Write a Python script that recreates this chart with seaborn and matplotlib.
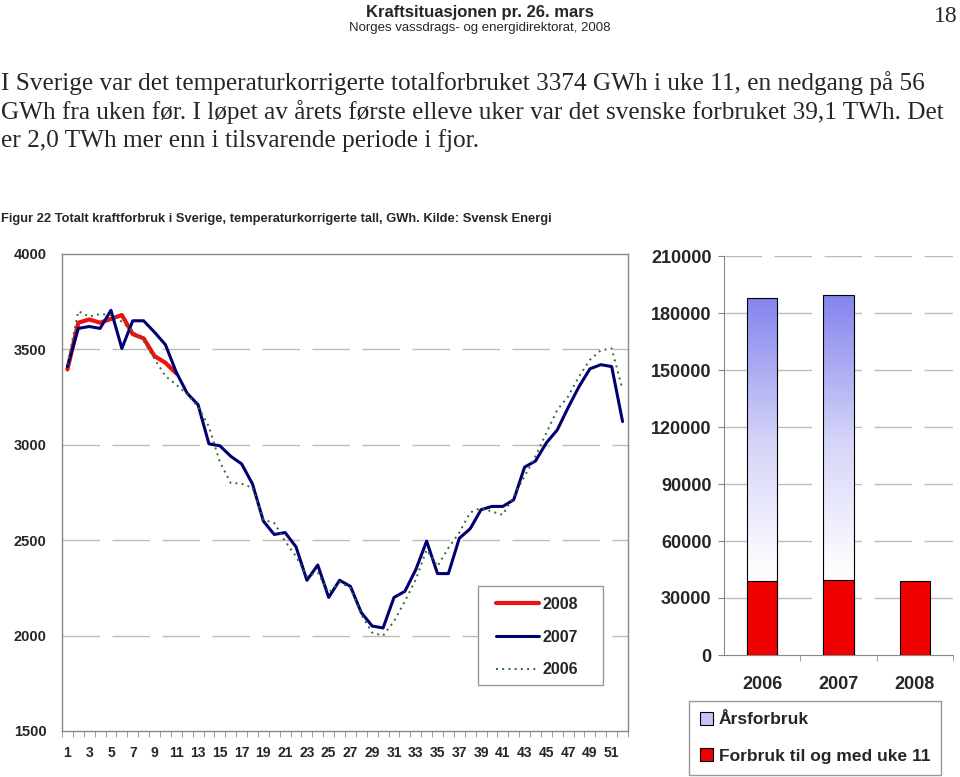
import numpy as np
import pandas as pd
import seaborn as sns
import matplotlib.pyplot as plt
from matplotlib.lines import Line2D
from matplotlib.patches import Patch, Rectangle
from matplotlib.colors import LinearSegmentedColormap

# weekly consumption, GWh (temperature corrected)
weeks = list(range(1, 53))
forbruk_2006 = [3420, 3700, 3672, 3685, 3680, 3645, 3595, 3545, 3450, 3360,
                3315, 3265, 3200, 3095, 2910, 2800, 2796, 2775, 2607, 2590,
                2495, 2415, 2310, 2330, 2225, 2280, 2250, 2110, 2015, 2000,
                2075, 2180, 2293, 2450, 2363, 2460, 2540, 2645, 2670, 2650,
                2633, 2730, 2835, 2940, 3062, 3183, 3253, 3358, 3445, 3495,
                3505, 3290]
forbruk_2007 = [3410, 3610, 3620, 3610, 3705, 3505, 3650, 3650, 3590, 3525,
                3380, 3270, 3210, 3005, 2995, 2940, 2900, 2795, 2600, 2530,
                2540, 2465, 2290, 2370, 2200, 2290, 2258, 2120, 2050, 2040,
                2200, 2232, 2345, 2495, 2325, 2325, 2510, 2560, 2660, 2677,
                2677, 2712, 2883, 2915, 3010, 3078, 3195, 3305, 3398, 3420,
                3410, 3122]
forbruk_2008 = [3395, 3640, 3657, 3640, 3660, 3680, 3580, 3558, 3465, 3430, 3374]

# yearly totals vs. consumption up to week 11, GWh
years = ['2006', '2007', '2008']
arsforbruk_years = ['2006', '2007']
arsforbruk = [187900, 189400]
forbruk_uke11 = [38900, 39300, 39100]

RED = '#ee1111'
NAVY = '#000070'
GREEN = '#2e6b3a'
GRID = '#bbbbbb'

sns.set_style('white')
plt.rcParams['font.family'] = ['Liberation Sans', 'DejaVu Sans']
serif = ['Liberation Serif', 'DejaVu Serif']

fig = plt.figure(figsize=(9.6, 7.77), dpi=100)


def px(x, y):
    # pixel position on the page -> figure fraction
    return x / 960, 1 - y / 777


# ---- page text ----
fig.text(*px(480, 12), 'Kraftsituasjonen pr. 26. mars', ha='center', va='center',
         fontsize=12, fontweight='bold')
fig.text(*px(480, 28), 'Norges vassdrags- og energidirektorat, 2008', ha='center', va='center',
         fontsize=9.5)
fig.text(*px(958, 16), '18', ha='right', va='center', fontsize=17, family=serif)

paragraph = ['I Sverige var det temperaturkorrigerte totalforbruket 3374 GWh i uke 11, en nedgang på 56',
             'GWh fra uken før. I løpet av årets første elleve uker var det svenske forbruket 39,1 TWh. Det',
             'er 2,0 TWh mer enn i tilsvarende periode i fjor.']
for i, line in enumerate(paragraph):
    fig.text(*px(1, 83 + i * 29), line, ha='left', va='center', fontsize=18.2, family=serif)

fig.text(*px(1, 219),
         'Figur 22 Totalt kraftforbruk i Sverige, temperaturkorrigerte tall, GWh. Kilde: Svensk Energi',
         ha='left', va='center', fontsize=9.3, fontweight='bold')

# ---- weekly line chart ----
ax = fig.add_axes([62 / 960, 1 - 731 / 777, 566 / 960, 477 / 777])
df06 = pd.DataFrame({'Uke': weeks, 'GWh': forbruk_2006})
df07 = pd.DataFrame({'Uke': weeks, 'GWh': forbruk_2007})
df08 = pd.DataFrame({'Uke': weeks[:len(forbruk_2008)], 'GWh': forbruk_2008})

sns.lineplot(data=df08, x='Uke', y='GWh', ax=ax, color=RED, linewidth=3, zorder=3)
sns.lineplot(data=df07, x='Uke', y='GWh', ax=ax, color=NAVY, linewidth=2.2, zorder=4)
sns.lineplot(data=df06, x='Uke', y='GWh', ax=ax, color=GREEN, linewidth=1.4,
             linestyle=(0, (1, 2.2)), zorder=5)

ax.set_xlim(0.5, 52.5)
ax.set_ylim(1500, 4000)
ax.set_yticks(range(1500, 4001, 500))
ax.set_xticks(weeks[::2])
ax.set_xticks(np.arange(0.5, 53, 1), minor=True)
ax.tick_params(axis='x', which='major', length=0, pad=11, labelsize=10)
ax.tick_params(axis='x', which='minor', length=4, color='#888888', direction='out')
ax.tick_params(axis='y', length=4, color='#888888', direction='out', labelsize=10.5, pad=7)
ax.tick_params(axis='x', bottom=True, which='both')
for lab in ax.get_xticklabels() + ax.get_yticklabels():
    lab.set_fontweight('bold')
ax.set_xlabel('')
ax.set_ylabel('')
for y in range(2000, 4000, 500):
    ax.axhline(y, color=GRID, linewidth=1, linestyle=(0, (27, 9)), zorder=1)
for sp in ax.spines.values():
    sp.set_visible(True)
    sp.set_color('#888888')
    sp.set_linewidth(1)

# legend box (opaque, covers the grid line) + legend entries
box = Rectangle(px(478, 685), 125 / 960, 99 / 777, transform=fig.transFigure,
                facecolor='white', edgecolor='#999999', linewidth=1, zorder=6)
ax.add_patch(box)
handles = [Line2D([], [], color=RED, linewidth=3),
           Line2D([], [], color=NAVY, linewidth=2.2),
           Line2D([], [], color=GREEN, linewidth=1.4, linestyle=(0, (1, 2.2)))]
leg = ax.legend(handles, ['2008', '2007', '2006'], loc='upper left',
                bbox_to_anchor=px(496, 597), bbox_transform=fig.transFigure,
                prop={'size': 11.5, 'weight': 'bold'}, handlelength=2.7, labelspacing=1.1,
                handletextpad=0.2, borderpad=0, borderaxespad=0, frameon=False)
leg.set_zorder(7)

# ---- yearly bar chart ----
bx = fig.add_axes([724 / 960, 1 - 655 / 777, 229 / 960, 399 / 777])
df_ar = pd.DataFrame({'År': arsforbruk_years, 'GWh': arsforbruk})
df_uke = pd.DataFrame({'År': years, 'GWh': forbruk_uke11})

sns.barplot(data=df_ar, x='År', y='GWh', order=years, ax=bx, width=0.4, errorbar=None,
            color='white', edgecolor='black', linewidth=0.8, zorder=2)
bar_patches = list(bx.patches)
sns.barplot(data=df_uke, x='År', y='GWh', order=years, ax=bx, width=0.4, errorbar=None,
            color='#f00000', saturation=1, edgecolor='black', linewidth=0.8, zorder=4)

grad_cmap = LinearSegmentedColormap.from_list(
    'grad', [(0, '#ffffff'), (0.25, '#fcfcff'), (0.6, '#d4d4f8'), (1, '#8484ee')])
grad = np.linspace(0, 1, 256).reshape(-1, 1)
for p in bar_patches:
    if p.get_height() <= 0 or np.isnan(p.get_height()):
        continue
    x0, y0 = p.get_x(), p.get_y()
    im = bx.imshow(grad, extent=[x0, x0 + p.get_width(), y0, y0 + p.get_height()],
                   origin='lower', aspect='auto', cmap=grad_cmap, zorder=2.5)
    im.set_clip_path(p)
    p.set_facecolor('none')
    p.set_zorder(3)

bx.set_xlim(-0.5, 2.5)
bx.set_ylim(0, 210000)
bx.set_yticks(range(0, 210001, 30000))
bx.set_xticks(range(3))
bx.set_xticklabels(years)
bx.set_xticks([0.5, 1.5, 2.5], minor=True)
bx.tick_params(axis='x', which='major', length=0, pad=15, labelsize=13)
bx.tick_params(axis='x', which='minor', length=4, color='#888888', direction='out', bottom=True)
bx.tick_params(axis='y', length=4, color='#888888', direction='out', left=True, labelsize=13, pad=5)
for lab in bx.get_xticklabels() + bx.get_yticklabels():
    lab.set_fontweight('bold')
bx.set_xlabel('')
bx.set_ylabel('')
for y in range(30000, 210001, 30000):
    bx.axhline(y, color=GRID, linewidth=1, linestyle=(0, (27, 9)), zorder=1)
bx.spines['top'].set_visible(False)
bx.spines['right'].set_visible(False)
bx.spines['left'].set_color('#888888')
bx.spines['bottom'].set_color('#888888')

bar_handles = [Patch(facecolor='#c4c4f4', edgecolor='black', linewidth=0.8),
               Patch(facecolor='#f00000', edgecolor='black', linewidth=0.8)]
leg2 = fig.legend(bar_handles, ['Årsforbruk', 'Forbruk til og med uke 11'], loc='lower left',
                  bbox_to_anchor=px(689, 775), prop={'size': 12.5, 'weight': 'bold'},
                  handlelength=0.75, handleheight=0.75, labelspacing=1.2, handletextpad=0.3,
                  borderpad=0.65, borderaxespad=0, frameon=True, fancybox=False, framealpha=1)
leg2.get_frame().set_edgecolor('#999999')
leg2.get_frame().set_linewidth(1)

fig.savefig('out.png', dpi=100, facecolor='white')
